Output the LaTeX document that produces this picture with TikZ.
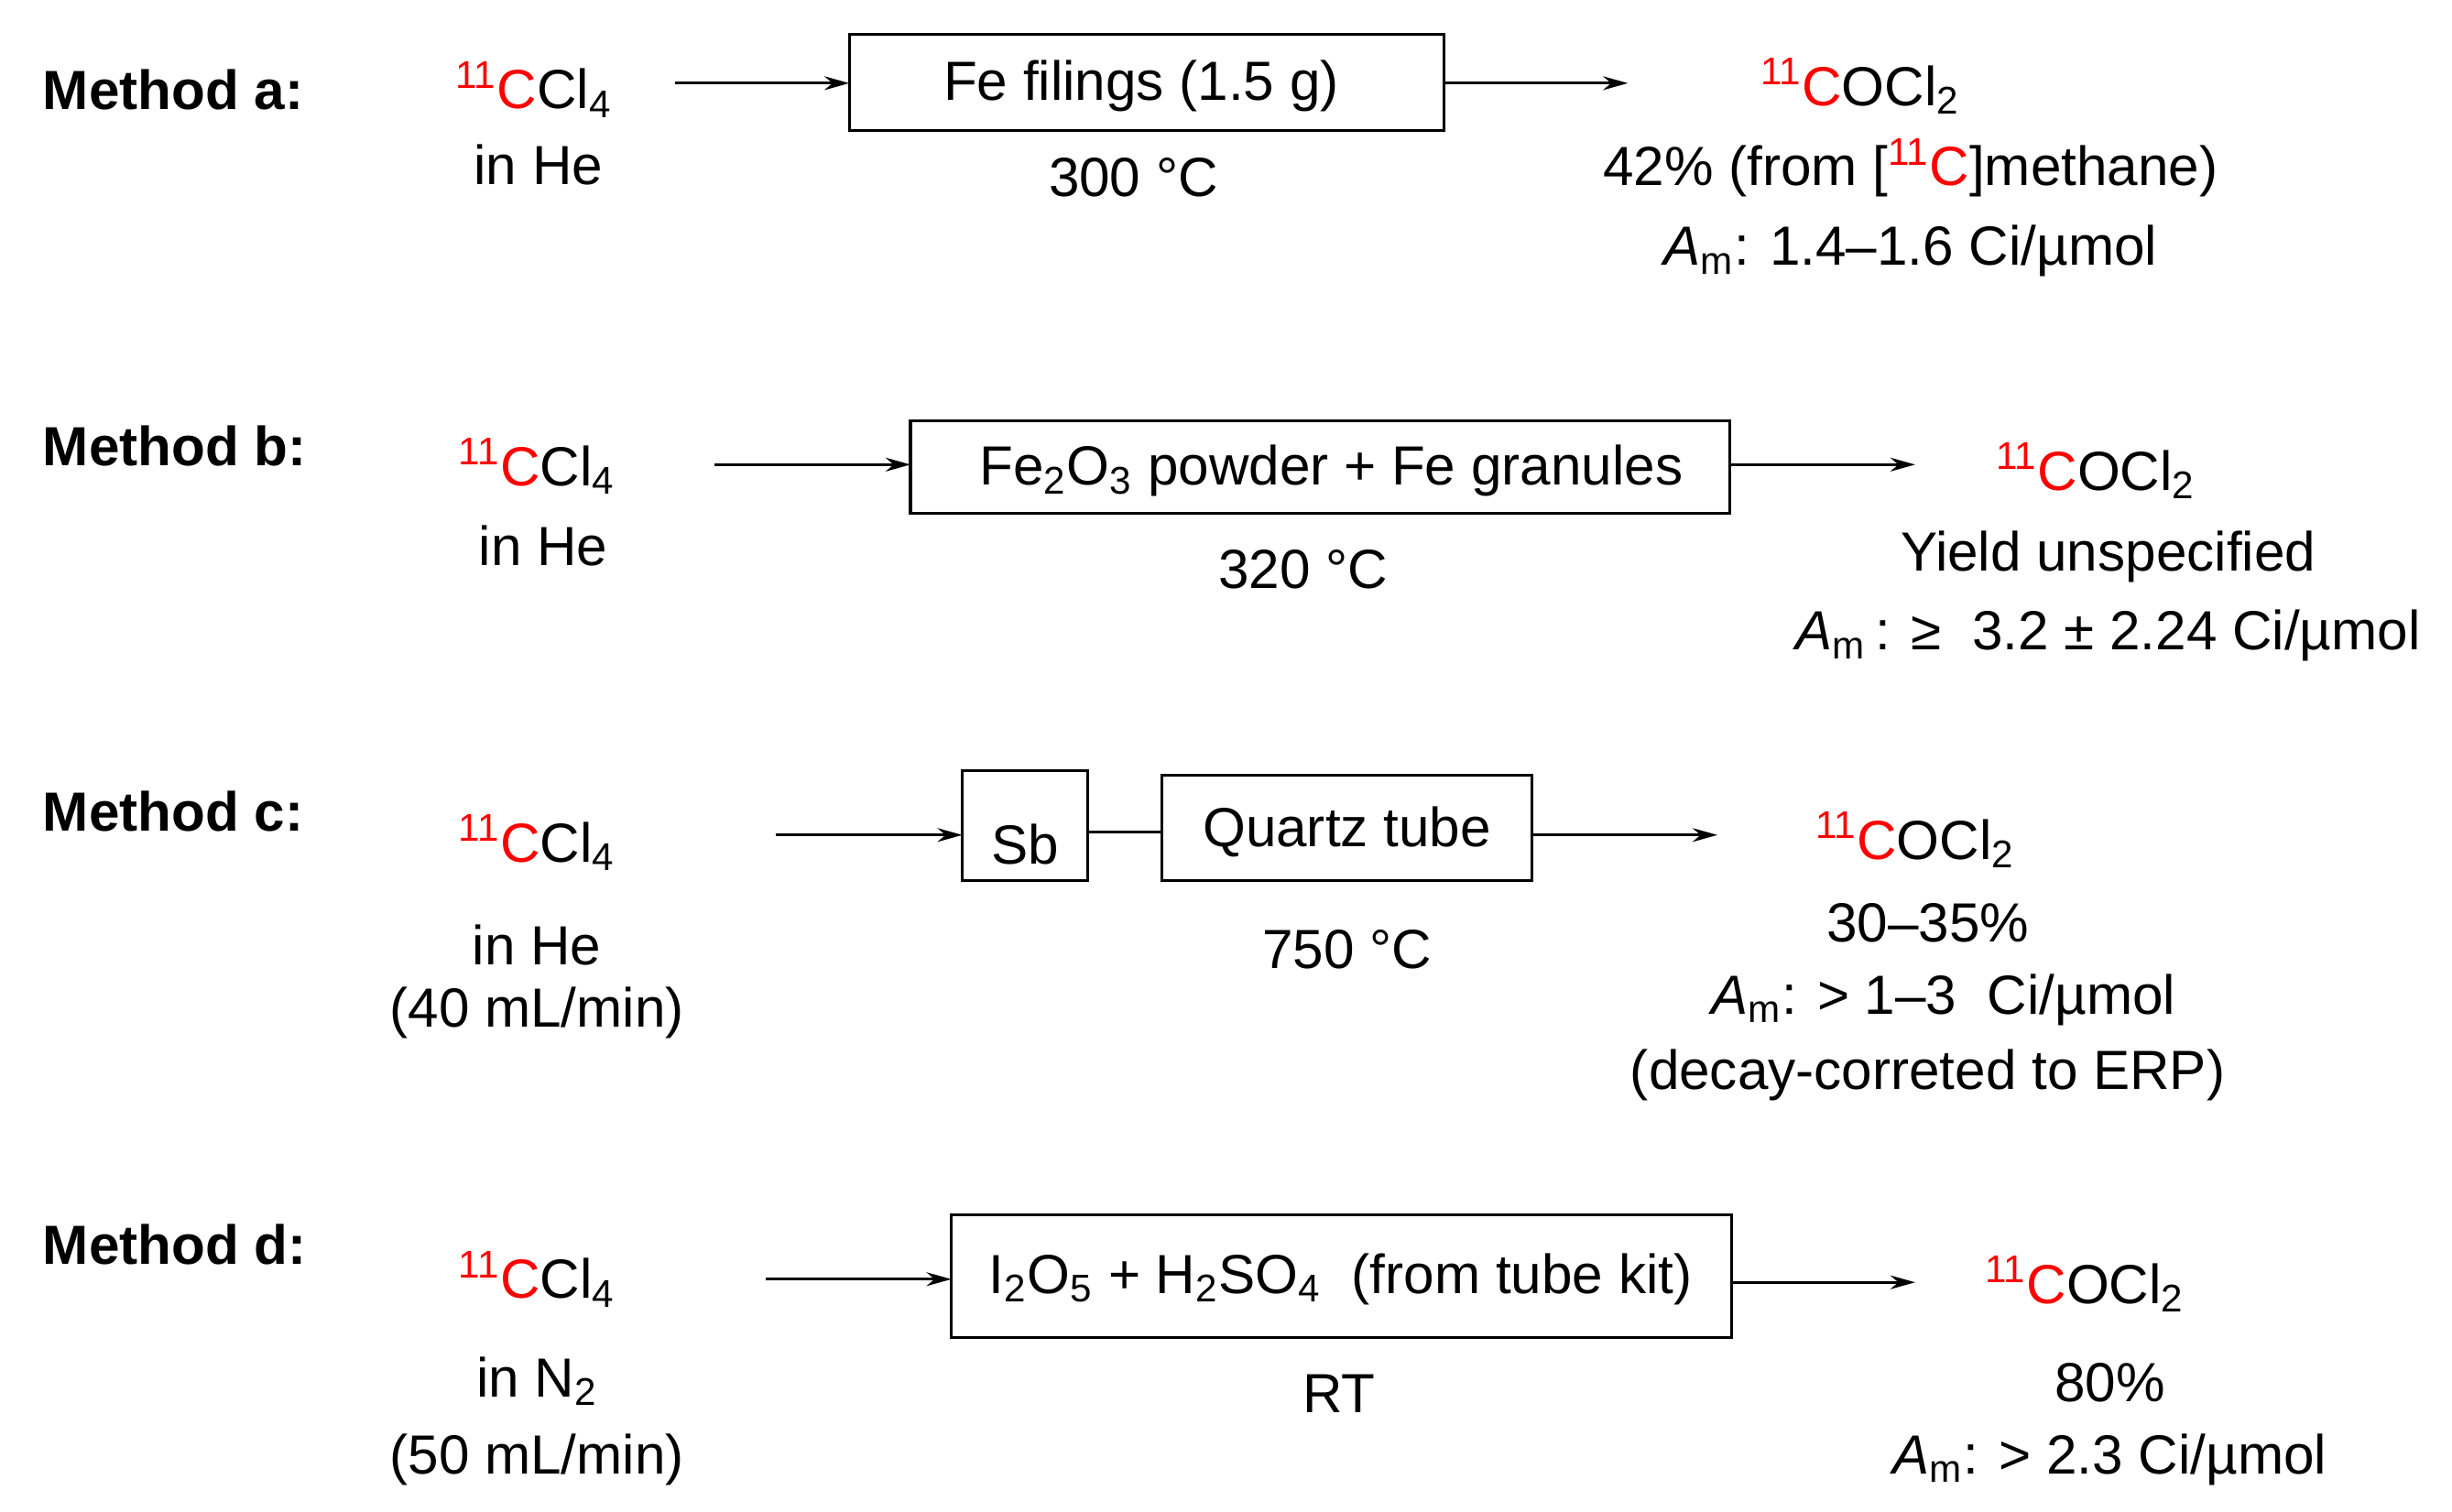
\documentclass[tikz,border=0pt]{standalone}
\usepackage{fontspec}
\setmainfont{Liberation Sans}
\usetikzlibrary{arrows.meta}
\newcommand\CC{\textcolor{red}{\textsuperscript{11}C}}
\newcommand\Am{\textit{A}\textsubscript{m}}
\tikzset{
 every node/.style={font=\fontsize{20}{24}\selectfont,inner sep=0pt},
 lbl/.style={font=\fontsize{20}{24}\selectfont\bfseries,anchor=west},
 rbox/.style={draw,line width=1.1pt},
 arr/.style={-{Stealth[length=9pt,width=5pt]},line width=0.9pt},
}
\begin{document}
\begin{tikzpicture}[x=0.02cm,y=-0.02cm]
\useasboundingbox (0,0) rectangle (1562,963);
% a
\node[lbl] at (27,57) {Method a:};
\node (a1) at (340,57) {\CC Cl\textsubscript{4}};
\node at (343,105) {in He};
\draw[rbox] (541,22) rectangle (920,83);
\node (ab) at (727,55) {Fe filings (1.5 g)};
\coordinate (al) at (541,53); \coordinate (ar) at (920,53);
\coordinate (as) at (430,53); \coordinate (ae) at (1037,53);
\draw[arr] (as) -- (al); \draw[arr] (ar) -- (ae);
\node at (722,113) {300 °C};
\node at (1185,55) {\CC OCl\textsubscript{2}};
\node at (1217,107) {42\% (from [\CC]methane)};
\node at (1217,160) {\Am: 1.4–1.6 Ci/µmol};
% b
\node[lbl] at (27,284) {Method b:};
\node at (342,297) {\CC Cl\textsubscript{4}};
\node at (346,348) {in He};
\draw[rbox] (580,268) rectangle (1102,327);
\node at (848,300) {Fe\textsubscript{2}O\textsubscript{3} powder + Fe granules};
\coordinate (bs) at (455,296); \coordinate (bl) at (580,296);
\coordinate (br) at (1102,296); \coordinate (be) at (1220,296);
\draw[arr] (bs) -- (bl); \draw[arr] (br) -- (be);
\node at (830,363) {320 °C};
\node at (1335,300) {\CC OCl\textsubscript{2}};
\node at (1343,355) {Yield unspecified};
\node at (1343,405) {\Am\,: ≥\ \ 3.2 ± 2.24 Ci/µmol};
% c
\node[lbl] at (27,517) {Method c:};
\node at (342,537) {\CC Cl\textsubscript{4}};
\node at (342,602) {in He};
\node at (342,645) {(40 mL/min)};
\draw[rbox] (613,491) rectangle (693,561);
\node at (653,538) {Sb};
\draw[rbox] (740,494) rectangle (976,561);
\node at (858,530) {Quartz tube};
\coordinate (cs) at (494,532); \coordinate (cl) at (613,532);
\coordinate (c1) at (693,530); \coordinate (c2) at (740,530);
\coordinate (cr) at (976,532); \coordinate (ce) at (1094,532);
\draw[arr] (cs) -- (cl); \draw[line width=0.9pt] (c1) -- (c2); \draw[arr] (cr) -- (ce);
\node at (858,605) {750 °C};
\node at (1220,535) {\CC OCl\textsubscript{2}};
\node at (1228,588) {30–35\%};
\node at (1238,637) {\Am: > 1–3\ \ Ci/µmol};
\node at (1228,685) {(decay-correted to ERP)};
% d
\node[lbl] at (27,793) {Method d:};
\node at (342,815) {\CC Cl\textsubscript{4}};
\node at (342,880) {in N\textsubscript{2}};
\node at (342,930) {(50 mL/min)};
\draw[rbox] (606,774) rectangle (1103,852);
\node at (854,815) {I\textsubscript{2}O\textsubscript{5} + H\textsubscript{2}SO\textsubscript{4}\ \ (from tube kit)};
\coordinate (ds) at (488,815); \coordinate (dl) at (606,815);
\coordinate (dr) at (1103,817); \coordinate (de) at (1220,817);
\draw[arr] (ds) -- (dl); \draw[arr] (dr) -- (de);
\node at (853,888) {RT};
\node at (1328,818) {\CC OCl\textsubscript{2}};
\node at (1344,881) {80\%};
\node at (1344,930) {\Am: > 2.3 Ci/µmol};
\end{tikzpicture}
\end{document}
